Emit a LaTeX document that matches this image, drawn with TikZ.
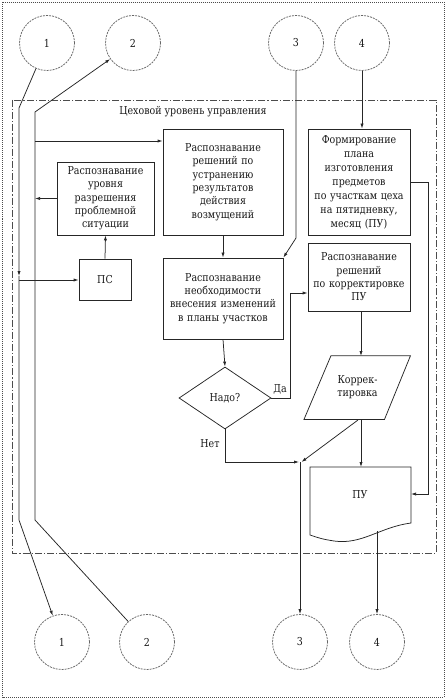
\documentclass[tikz,border=0pt]{standalone}
\usepackage{fontspec}
\setmainfont{DejaVu Serif}[FakeStretch=0.87]
\usetikzlibrary{arrows.meta,shapes.geometric}
\begin{document}
\begin{tikzpicture}[x=1pt,y=-1pt,
  line width=0.75pt, draw=black!85,
  every node/.style={font=\fontsize{10.9}{13.3}\selectfont, text=black!90},
  blk/.style={draw=black!85, rectangle, align=center, inner sep=2pt},
  conn/.style={circle, draw=black!60, dash pattern=on 2pt off 1pt, minimum size=55pt, inner sep=0pt},
  arr/.style={-{Latex[length=5pt,width=3.2pt]}},
  ln/.style={draw=black!85}]
\useasboundingbox (0,0) rectangle (447,700);
% outer dotted frame
\draw[black!70, line width=0.8pt, dash pattern=on 1pt off 1pt] (2.5,2.5) rectangle (444,697);
% inner dash-dot frame
\draw[black!70, line width=0.7pt, dash pattern=on 7pt off 2pt on 1.2pt off 2pt] (12,100) rectangle (436,553);
\node (title) at (193,112) {Цеховой уровень управления};

% connectors circles
\node[conn] (c1t) at (47,43) {1};
\node[conn] (c2t) at (133,43) {2};
\node[conn] (c3t) at (296,43) {3};
\node[conn] (c4t) at (362,43) {4};
\node[conn] (c1b) at (62,642) {1};
\node[conn] (c2b) at (147,642) {2};
\node[conn] (c3b) at (300,642) {3};
\node[conn] (c4b) at (377,642) {4};

% boxes
\node[blk, minimum width=97pt, minimum height=73pt, text width=93pt] (lvl) at (105.5,198.5)
  {Распознавание\\уровня\\разрешения\\проблемной\\ситуации};
\node[blk, minimum width=120pt, minimum height=106pt, text width=114pt] (ustr) at (223,182)
  {Распознавание\\решений по\\устранению\\результатов\\действия\\возмущений};
\node[blk, minimum width=102pt, minimum height=106pt, text width=98pt, font=\fontsize{10.9}{14}\selectfont] (form) at (359,182)
  {Формирование\\плана\\изготовления\\предметов\\по участкам цеха\\на пятидневку,\\месяц (ПУ)};
\node[blk, minimum width=52pt, minimum height=41pt] (ps) at (105,279.5) {ПС};
\node[blk, minimum width=120pt, minimum height=81pt, text width=116pt] (neob) at (223,298.5)
  {Распознавание\\необходимости\\внесения изменений\\в планы участков};
\node[blk, minimum width=102pt, minimum height=68pt, text width=98pt] (korr) at (359,277)
  {Распознавание\\решений\\по корректировке\\ПУ};
\node[draw=black!85, diamond, aspect=1.48, minimum width=92pt, minimum height=62pt, inner sep=0pt] (dia) at (225,398) {Надо?};

% parallelogram
\node[align=center, minimum width=80pt, minimum height=63pt, inner sep=0pt] (kt) at (357.5,387.5) {Коррек-\\тировка};
\draw[ln] ([xshift=-26.5pt]kt.north) -- ([xshift=53pt]kt.north) -- ([xshift=27pt]kt.south) -- ([xshift=-53.5pt]kt.south) -- cycle;
\coordinate (ktTop) at (361,356);
\coordinate (ktBot) at (361,419);

% document ПУ
\node (pu) at (360,495) {ПУ};
\draw[ln] (310,467) -- (411,467) -- (411,523) .. controls (380,527) and (362,545) .. (334,541) .. controls (322,539) .. (310,535) -- cycle;
\coordinate (docTop) at (361,467);
\coordinate (docR) at (411,494);
\coordinate (docBot) at (377,531);

% line 1
\coordinate (l1a) at (19,108);
\coordinate (l1b) at (19,276);
\coordinate (l1c) at (19,520);
\coordinate (l1br) at (19,280);
\draw[arr] (c1t) -- (l1a) -- (l1b);
\draw[arr] (l1b) -- (l1c) -- (c1b);
\draw[arr] (l1br) -- (l1br -| ps.west);

% line 2
\coordinate (l2a) at (35,112);
\coordinate (l2b) at (35,520);
\coordinate (l2br) at (35,141);
\draw[arr] (c2b) -- (l2b) -- (l2a) -- (c2t);
\draw[arr] (l2br) -- (l2br -| ustr.west);
\draw[arr] (lvl.west) -- (lvl.west -| l2a);
\draw[arr] (ps.north) -- (lvl.south);

% circle 3 to neob
\coordinate (l3a) at (296,238);
\draw[arr] (c3t) -- (l3a) -- (neob.north east);
\draw[arr] (ustr.south) -- (neob.north);

% circle 4 to form
\draw[arr] (c4t) -- (c4t |- form.north);
\coordinate (fr) at (428,182);
\draw[arr] (form.east |- fr) -- (fr) -- (fr |- docR) -- (docR);

% decision
\draw[arr] (neob.south) -- (dia.north);
\coordinate (da1) at (290,398);
\coordinate (da2) at (290,293);
\draw[arr] (dia.east) -- (da1) -- (da2) -- (da2 -| korr.west);
\node[anchor=south west, inner sep=1pt] (dalbl) at (272,396) {Да};
\coordinate (jn) at (300,462);
\coordinate (net1) at (225,462);
\draw[arr] (dia.south) -- (net1) -- ([xshift=-1pt]jn);
\node (netlbl) at (210,444) {Нет};

\draw[arr] (korr.south -| ktTop) -- (ktTop);
\draw[arr] (ktBot) -- (docTop);
\draw[arr] (358,420) -- ([xshift=1.5pt]jn);
\draw[arr] (jn) -- (c3b.north);
\draw[arr] (docBot) -- (c4b.north);
\end{tikzpicture}
\end{document}
